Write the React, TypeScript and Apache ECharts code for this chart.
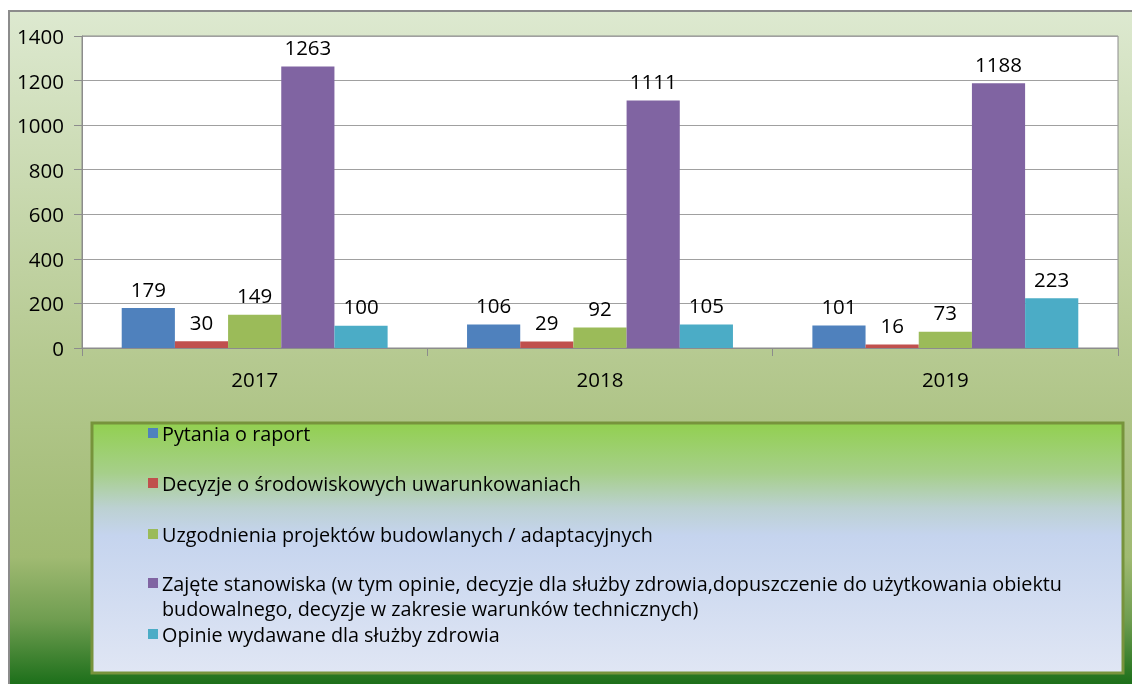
import React, { useEffect, useRef } from "react";
import * as echarts from "echarts";

const years = ["2017", "2018", "2019"];
const seriesNames = [
  "Pytania o raport",
  "Decyzje o środowiskowych uwarunkowaniach",
  "Uzgodnienia projektów budowlanych / adaptacyjnych",
  "Zajęte stanowiska (w tym opinie, decyzje dla służby zdrowia,dopuszczenie do użytkowania obiektu\nbudowalnego, decyzje w zakresie warunków technicznych)",
  "Opinie wydawane dla służby zdrowia",
];
const pytania = [179, 106, 101];
const decyzje = [30, 29, 16];
const uzgodnienia = [149, 92, 73];
const zajete = [1263, 1111, 1188];
const opinie = [100, 105, 223];
const seriesValues = [pytania, decyzje, uzgodnienia, zajete, opinie];
const colors = ["#4f81bd", "#c0504d", "#9bbb59", "#8064a2", "#4bacc6"];
const yTicks = { min: 0, max: 1400, interval: 200 };

const FONT = "'Open Sans', sans-serif";

export default function App() {
  const ref = useRef<HTMLDivElement>(null);
  useEffect(() => {
    if (!ref.current) return;
    const chart = echarts.init(ref.current, null, { renderer: "svg" });
    const legendRows = [433, 483, 534, 583, 634];
    const legendGraphics: any[] = [];
    seriesNames.forEach((name, i) => {
      legendGraphics.push({
        type: "rect",
        shape: { x: 148, y: legendRows[i] - 5, width: 10, height: 10 },
        style: { fill: colors[i] },
        z: 10,
      });
      legendGraphics.push({
        type: "text",
        x: 162,
        y: legendRows[i] - 12.5,
        style: {
          text: name,
          fontFamily: FONT,
          fontSize: 19.8,
          lineHeight: 25,
          fill: "#000",
          textVerticalAlign: "top",
        },
        z: 10,
      });
    });
    chart.setOption({
      animation: false,
      color: colors,
      textStyle: { fontFamily: FONT },
      graphic: [
        {
          type: "rect",
          shape: { x: 9, y: 11, width: 1140, height: 700 },
          style: {
            fill: new echarts.graphic.LinearGradient(0, 0, 0, 1, [
              { offset: 0, color: "#dde9d0" },
              { offset: 0.5, color: "#b5c990" },
              { offset: 0.78, color: "#a0ba72" },
              { offset: 0.87, color: "#6f9d50" },
              { offset: 0.96, color: "#1e701b" },
              { offset: 1, color: "#1e701b" },
            ]),
            stroke: "#8c8c8c",
            lineWidth: 2,
          },
          z: -10,
          silent: true,
        },
        {
          type: "rect",
          shape: { x: 92, y: 423, width: 1031, height: 250 },
          style: {
            fill: new echarts.graphic.LinearGradient(0, 0, 0, 1, [
              { offset: 0, color: "#92d050" },
              { offset: 0.2, color: "#a6cf8a" },
              { offset: 0.34, color: "#bcd1d2" },
              { offset: 0.45, color: "#c5d4ee" },
              { offset: 1, color: "#e0e6f4" },
            ]),
            stroke: "#77933c",
            lineWidth: 3,
          },
          z: 5,
        },
        ...legendGraphics,
      ],
      grid: {
        left: 82,
        right: 14,
        top: 36,
        bottom: 336,
        show: true,
        backgroundColor: "#ffffff",
        borderColor: "#8c8c8c",
        borderWidth: 1,
      },
      xAxis: {
        type: "category",
        data: years,
        axisLine: { lineStyle: { color: "#8c8c8c" } },
        axisTick: { show: true, length: 8, lineStyle: { color: "#8c8c8c" } },
        axisLabel: { color: "#000", fontSize: 20.5, margin: 20, fontFamily: FONT },
      },
      yAxis: {
        type: "value",
        min: yTicks.min,
        max: yTicks.max,
        interval: yTicks.interval,
        axisLine: { show: true, lineStyle: { color: "#8c8c8c" } },
        axisTick: { show: true, length: 8, lineStyle: { color: "#8c8c8c" } },
        splitLine: { lineStyle: { color: "#a0a0a0" } },
        axisLabel: {
          color: "#000",
          fontSize: 20.5,
          margin: 18,
          fontFamily: FONT,
          formatter: (v: number) => String(v),
        },
      },
      series: seriesNames.map((name, i) => ({
        name,
        type: "bar",
        data: seriesValues[i],
        barGap: "0%",
        barCategoryGap: "23%",
        itemStyle: { color: colors[i] },
        label: {
          show: true,
          position: "top",
          distance: 9,
          color: "#000",
          fontSize: 20.5,
          fontFamily: FONT,
        },
      })),
    });
    return () => chart.dispose();
  }, []);
  return (
    <div
      ref={ref}
      style={{ position: "fixed", left: 0, top: 0, width: 1132, height: 684 }}
    />
  );
}
